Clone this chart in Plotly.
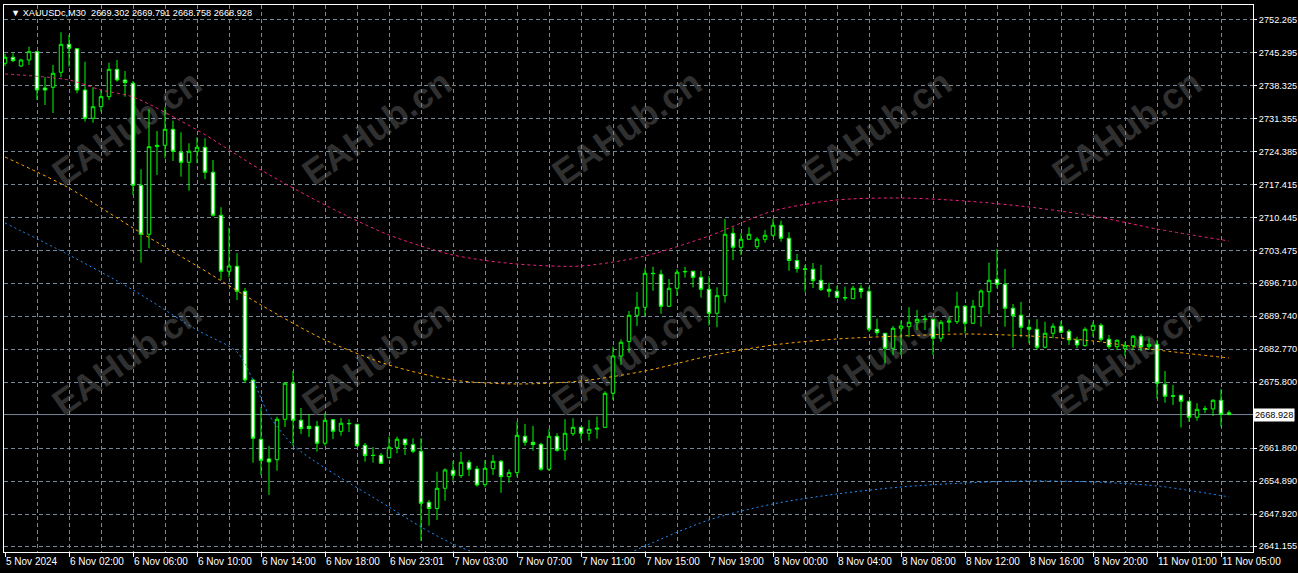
import plotly.graph_objects as go

# ---- OHLC data, XAUUSDc M30 ----
open_ = [2743.12, 2744.39, 2742.55, 2743.82, 2745.57, 2737.90, 2738.05, 2741.22, 2747.13, 2746.20,
         2737.48, 2731.50, 2733.95, 2736.07, 2741.85, 2739.59, 2738.90, 2717.35, 2707.01, 2725.51,
         2725.80, 2729.18, 2724.33, 2722.21, 2724.54, 2725.38, 2720.10, 2711.02, 2699.19, 2700.25,
         2694.97, 2676.23, 2663.71, 2659.55, 2659.40, 2667.93, 2675.54, 2667.72, 2666.46, 2666.46,
         2662.87, 2667.85, 2665.40, 2667.05, 2666.88, 2662.44, 2660.33, 2660.33, 2659.82, 2662.02,
         2663.71, 2662.57, 2661.18, 2650.40, 2649.09, 2653.36, 2657.16, 2656.02, 2658.85, 2657.44,
         2654.12, 2657.50, 2659.06, 2655.81, 2656.66, 2664.34, 2663.08, 2662.65, 2657.37, 2664.34,
         2661.39, 2664.89, 2666.24, 2664.98, 2665.85, 2666.24, 2673.42, 2681.30, 2684.34, 2689.90,
         2691.59, 2698.77, 2698.56, 2691.80, 2695.60, 2699.05, 2699.19, 2697.92, 2695.39, 2690.32,
         2694.04, 2707.22, 2704.26, 2705.95, 2704.39, 2705.95, 2706.80, 2708.91, 2706.16, 2701.47,
         2699.70, 2699.61, 2697.29, 2695.39, 2694.97, 2693.66, 2693.40, 2695.60, 2694.97, 2686.94,
         2686.10, 2682.93, 2687.15, 2687.49, 2688.42, 2689.00, 2689.05, 2685.04, 2688.42, 2688.55,
         2691.80, 2688.21, 2691.72, 2694.88, 2697.50, 2696.45, 2691.38, 2689.90, 2687.36, 2686.94,
         2683.14, 2686.10, 2687.58, 2686.52, 2684.68, 2683.49, 2686.73, 2687.79, 2684.83, 2683.27,
         2682.85, 2683.48, 2685.46, 2683.27, 2683.77, 2675.33, 2672.90, 2673.00, 2671.73, 2668.36,
         2670.04, 2670.12, 2671.95, 2669.302]
high = [2745.09, 2745.23, 2744.09, 2746.63, 2745.72, 2740.23, 2742.76, 2749.67, 2749.10, 2746.35,
        2743.46, 2738.05, 2737.48, 2743.25, 2743.82, 2741.49, 2739.38, 2720.73, 2733.41, 2728.82,
        2733.83, 2731.00, 2728.55, 2726.22, 2727.49, 2727.28, 2722.70, 2712.71, 2708.40, 2702.99,
        2695.66, 2676.45, 2670.47, 2662.29, 2668.48, 2675.75, 2678.13, 2670.32, 2669.05, 2667.57,
        2669.20, 2668.00, 2668.21, 2667.93, 2666.95, 2662.93, 2662.08, 2660.82, 2664.26, 2664.26,
        2663.92, 2663.92, 2663.92, 2650.89, 2656.87, 2657.58, 2659.13, 2661.03, 2659.34, 2658.07,
        2659.34, 2660.39, 2659.34, 2657.37, 2667.43, 2666.94, 2666.52, 2662.99, 2665.89, 2664.98,
        2667.93, 2668.15, 2666.38, 2667.79, 2668.48, 2673.84, 2683.27, 2684.83, 2690.81, 2694.82,
        2699.82, 2700.16, 2699.47, 2697.56, 2699.61, 2700.16, 2699.31, 2699.25, 2698.20, 2695.81,
        2710.24, 2708.48, 2707.22, 2708.48, 2706.37, 2707.91, 2710.24, 2709.88, 2707.43, 2702.84,
        2700.52, 2700.94, 2700.52, 2696.78, 2696.09, 2695.94, 2696.09, 2696.30, 2695.94, 2689.18,
        2686.15, 2687.64, 2688.76, 2691.59, 2691.02, 2689.96, 2689.10, 2688.90, 2689.48, 2694.88,
        2692.07, 2693.13, 2695.39, 2701.01, 2703.84, 2699.68, 2692.29, 2692.71, 2689.05, 2689.05,
        2688.55, 2688.21, 2688.69, 2686.94, 2685.38, 2687.36, 2688.48, 2688.21, 2685.74, 2684.83,
        2684.26, 2685.74, 2685.95, 2685.04, 2684.68, 2678.13, 2675.18, 2673.05, 2671.80, 2671.31,
        2670.74, 2672.15, 2674.27, 2669.791]
low = [2742.55, 2743.40, 2742.34, 2742.76, 2735.37, 2734.31, 2732.62, 2740.16, 2742.40, 2736.79,
       2730.79, 2730.58, 2732.90, 2735.37, 2739.23, 2736.07, 2715.31, 2701.01, 2704.05, 2719.53,
       2723.06, 2722.49, 2719.17, 2716.21, 2722.00, 2718.62, 2710.72, 2697.35, 2697.92, 2693.13,
       2675.60, 2658.77, 2656.17, 2651.95, 2657.08, 2666.31, 2662.36, 2664.83, 2664.20, 2661.09,
       2662.36, 2663.77, 2664.47, 2665.25, 2662.15, 2658.98, 2658.77, 2658.49, 2659.69, 2660.75,
       2660.39, 2660.75, 2642.29, 2645.46, 2646.67, 2650.74, 2654.97, 2655.54, 2655.96, 2653.70,
       2653.57, 2656.17, 2652.43, 2654.54, 2655.81, 2662.36, 2661.30, 2657.08, 2657.08, 2661.09,
       2659.34, 2664.41, 2663.71, 2663.41, 2663.84, 2666.10, 2672.01, 2679.40, 2682.00, 2687.64,
       2689.75, 2695.09, 2690.24, 2691.70, 2693.97, 2697.84, 2695.81, 2693.62, 2687.70, 2687.36,
       2692.56, 2701.58, 2702.63, 2705.80, 2703.90, 2705.23, 2706.50, 2705.44, 2699.30, 2698.90,
       2694.88, 2695.66, 2695.03, 2693.70, 2693.49, 2692.98, 2693.40, 2693.49, 2686.43, 2685.59,
       2679.76, 2681.51, 2681.51, 2685.25, 2686.79, 2686.79, 2681.51, 2684.32, 2686.43, 2688.06,
       2686.10, 2688.06, 2687.49, 2690.17, 2695.60, 2687.49, 2683.05, 2685.25, 2683.98, 2682.57,
       2682.93, 2685.04, 2686.10, 2683.63, 2682.93, 2683.27, 2685.38, 2684.32, 2682.72, 2682.57,
       2681.30, 2682.57, 2682.36, 2682.57, 2672.28, 2671.44, 2670.95, 2666.20, 2667.43, 2667.64,
       2669.20, 2668.63, 2666.37, 2668.758]
close = [2744.39, 2743.67, 2743.82, 2745.57, 2737.48, 2737.48, 2741.01, 2747.13, 2746.29, 2737.48,
         2731.50, 2733.95, 2736.07, 2741.85, 2739.59, 2739.02, 2717.35, 2707.01, 2725.51, 2725.80,
         2729.18, 2724.54, 2722.21, 2724.54, 2725.38, 2720.10, 2711.02, 2699.19, 2700.31, 2694.97,
         2676.23, 2663.92, 2659.27, 2658.92, 2667.93, 2675.54, 2667.72, 2665.95, 2665.95, 2662.87,
         2667.72, 2665.40, 2667.09, 2667.00, 2662.36, 2660.25, 2660.28, 2658.64, 2662.02, 2663.71,
         2662.57, 2661.18, 2650.19, 2649.09, 2653.36, 2657.23, 2656.11, 2658.85, 2657.37, 2654.06,
         2657.58, 2659.06, 2655.81, 2656.66, 2664.55, 2663.08, 2662.57, 2657.37, 2664.34, 2661.39,
         2664.98, 2666.24, 2664.98, 2665.82, 2666.05, 2673.42, 2681.30, 2684.20, 2689.90, 2691.59,
         2698.77, 2698.70, 2691.80, 2695.60, 2698.98, 2699.15, 2697.92, 2695.39, 2690.32, 2694.04,
         2707.01, 2704.26, 2705.95, 2707.01, 2705.95, 2706.80, 2708.91, 2706.16, 2701.47, 2699.74,
         2699.60, 2697.21, 2695.35, 2694.97, 2693.70, 2693.56, 2695.60, 2694.88, 2686.94, 2686.22,
         2682.93, 2687.15, 2687.64, 2688.42, 2689.05, 2689.10, 2685.04, 2688.42, 2688.69, 2691.80,
         2688.21, 2691.80, 2695.03, 2697.29, 2696.45, 2691.38, 2689.81, 2687.36, 2686.94, 2683.14,
         2686.10, 2687.58, 2686.31, 2684.68, 2683.63, 2686.94, 2687.79, 2684.83, 2683.27, 2684.62,
         2683.48, 2685.46, 2683.27, 2683.77, 2675.54, 2672.79, 2672.80, 2671.73, 2668.36, 2670.04,
         2670.12, 2671.95, 2668.99, 2668.928]
bars = list(range(len(close)))

# ---- moving averages, sampled along the bars ----
ma_pink_bars = [0, 8, 12, 16, 24, 32, 40, 48, 56, 64, 72, 80, 88, 96, 104, 112, 120, 128, 136, 144, 153]
ma_pink = [2740.86, 2739.59, 2737.48, 2736.00, 2729.03, 2720.59, 2713.19, 2706.86, 2702.63, 2700.73,
           2700.31, 2702.42, 2706.65, 2711.93, 2714.25, 2714.67, 2714.04, 2712.77, 2710.87, 2708.12, 2705.59]
ma_orange_bars = [0, 4, 8, 16, 24, 32, 40, 48, 56, 64, 72, 80, 88, 96, 104, 112, 120, 128, 136, 144, 153]
ma_orange = [2723.33, 2720.16, 2716.78, 2708.34, 2700.31, 2692.07, 2684.68, 2679.40, 2676.23, 2675.39,
             2676.02, 2678.13, 2681.30, 2683.62, 2684.89, 2685.53, 2685.95, 2685.53, 2684.47, 2682.57, 2680.88]
ma_blue_bars = [0, 8, 16, 24, 29, 31, 33, 36, 40, 48, 52, 56, 60, 68, 76, 80, 88, 96, 104, 112, 120, 128, 136, 144, 153]
ma_blue = [2709.39, 2702.63, 2695.24, 2686.79, 2682.14, 2676.23, 2668.84, 2662.50, 2657.64, 2649.41,
           2645.18, 2641.60, 2639.06, 2636.95, 2638.22, 2641.18, 2646.67, 2650.05, 2652.16, 2653.64,
           2654.48, 2654.91, 2654.69, 2653.85, 2651.53]

# ---- axis labels ----
time_tick_bars = list(range(0, 153, 8))
time_labels = ["5 Nov 2024", "6 Nov 02:00", "6 Nov 06:00", "6 Nov 10:00", "6 Nov 14:00",
               "6 Nov 18:00", "6 Nov 23:01", "7 Nov 03:00", "7 Nov 07:00", "7 Nov 11:00",
               "7 Nov 15:00", "7 Nov 19:00", "8 Nov 00:00", "8 Nov 04:00", "8 Nov 08:00",
               "8 Nov 12:00", "8 Nov 16:00", "8 Nov 20:00", "11 Nov 01:00", "11 Nov 05:00"]
price_ticks = [2752.265, 2745.295, 2738.325, 2731.355, 2724.385, 2717.415, 2710.445, 2703.475,
               2696.710, 2689.740, 2682.770, 2675.800, 2661.860, 2654.890, 2647.920, 2641.155]
bid = 2668.928
header = "▼ XAUUSDc,M30  2669.302 2669.791 2668.758 2668.928"

GRID = "#778899"
FONT = "Liberation Sans"

fig = go.Figure()

fig.add_trace(go.Candlestick(
    x=bars, open=open_, high=high, low=low, close=close,
    increasing=dict(line=dict(color="#00FF00", width=1), fillcolor="#000000"),
    decreasing=dict(line=dict(color="#00FF00", width=1), fillcolor="#FFFFFF"),
    whiskerwidth=0, showlegend=False, hoverinfo="skip",
))

for xs, ys, col, dash in [
    (ma_pink_bars, ma_pink, "#F0207F", "3px,3px"),
    (ma_orange_bars, ma_orange, "#FFA500", "3px,3px"),
    (ma_blue_bars, ma_blue, "#1E90FF", "2px,3px"),
]:
    fig.add_trace(go.Scatter(
        x=xs, y=ys, mode="lines", showlegend=False, hoverinfo="skip",
        line=dict(color=col, width=1, dash=dash, shape="spline", smoothing=0.8),
    ))

# bid line
fig.add_shape(type="line", xref="paper", x0=0, x1=1, yref="y", y0=bid, y1=bid,
              line=dict(color=GRID, width=1), layer="between")

# watermarks (under the candles)
for cy in [125, 355]:
    for cx in [125, 375, 625, 875, 1125]:
        px = (cx - 4) / 1249
        py = 1 - (cy - 5) / 547
        fig.add_shape(type="rect", xref="paper", yref="paper",
                      x0=px - 0.05, x1=px + 0.05, y0=py - 0.08, y1=py + 0.08,
                      line=dict(width=0), fillcolor="rgba(0,0,0,0)", layer="between",
                      label=dict(text="EAHub.cn", textangle=-35,
                                 font=dict(family=FONT, size=36, color="#303030", weight="bold")))

fig.add_annotation(xref="paper", yref="y", x=1, y=bid, xanchor="left", yanchor="middle",
                   text="2668.928", showarrow=False, bgcolor="#FFFFFF", borderpad=1,
                   font=dict(family=FONT, size=9.2, color="#000000"))
fig.add_annotation(xref="paper", yref="paper", x=0.004, y=0.985, xanchor="left", yanchor="middle",
                   text=header, showarrow=False, font=dict(family=FONT, size=9.2, color="#FFFFFF"))

fig.update_layout(
    template="none",
    width=1298, height=573,
    margin=dict(l=4, r=45, t=5, b=21),
    paper_bgcolor="#000000", plot_bgcolor="#000000",
    boxgap=0.375,
    showlegend=False,
    xaxis=dict(
        range=[-0.125, 156], rangeslider=dict(visible=False), automargin=False,
        tickmode="array", tickvals=time_tick_bars, ticktext=time_labels, tickangle=0,
        ticks="outside", ticklen=4, tickcolor="#FFFFFF", ticklabelposition="outside right",
        tickfont=dict(family=FONT, size=10, color="#FFFFFF"),
        showgrid=True, gridcolor=GRID, gridwidth=1, griddash="4px,3px",
        minor=dict(tickvals=[b + 4 for b in time_tick_bars], showgrid=True,
                   gridcolor=GRID, gridwidth=1, griddash="4px,3px", ticks=""),
        showline=True, linecolor="#FFFFFF", linewidth=1, mirror=True, zeroline=False,
    ),
    yaxis=dict(
        range=[2639.90, 2755.43], side="right", automargin=False,
        tickmode="array", tickvals=price_ticks, tickformat=".3f",
        ticks="outside", ticklen=3, tickcolor="#FFFFFF",
        tickfont=dict(family=FONT, size=9.2, color="#FFFFFF"),
        showgrid=True, gridcolor=GRID, gridwidth=1, griddash="4px,3px",
        showline=True, linecolor="#FFFFFF", linewidth=1, mirror=True, zeroline=False,
    ),
)

fig.write_html("out.html", config={"displayModeBar": False},
               post_script="document.body.style.margin='0';")
